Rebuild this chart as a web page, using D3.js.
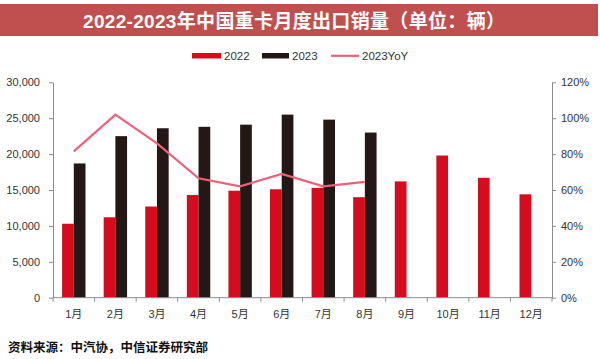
<!DOCTYPE html>
<html><head><meta charset="utf-8">
<script src="https://cdn.jsdelivr.net/npm/d3@7"></script>
<style>
html,body{margin:0;padding:0;background:#fff;}
svg{display:block;}
</style>
</head><body>
<svg id="c" width="600" height="359"></svg>
<script>
const months = ["1月","2月","3月","4月","5月","6月","7月","8月","9月","10月","11月","12月"];
const sales2022 = [10300,11200,12700,14300,14900,15100,15300,14000,16200,19800,16700,14400];
const sales2023 = [18700,22500,23600,23800,24100,25500,24800,23000,null,null,null,null];
const yoy2023 = [0.815,1.02,0.86,0.665,0.62,0.69,0.62,0.645,null,null,null,null];
const leftTicks = [0,5000,10000,15000,20000,25000,30000];
const rightTicks = [0,0.2,0.4,0.6,0.8,1.0,1.2];
const seriesNames = ["2022","2023","2023YoY"];

const colors = {r:"#d50b1e", k:"#231815", p:"#f0607a", axis:"#8c8c8c", text:"#333"};
const font = "'Liberation Sans', Arial, 'Noto Sans CJK SC', sans-serif";
const svg = d3.select("#c");

// title bar
svg.append("rect").attr("x",0).attr("y",4).attr("width",598).attr("height",32).attr("fill","#c0504f");
svg.append("text").attr("x",83).attr("y",28).attr("fill","#fff")
  .attr("font-family","'Liberation Sans', 'Noto Sans CJK SC', sans-serif").attr("font-weight","bold")
  .attr("font-size",19).attr("textLength",422).attr("lengthAdjust","spacing")
  .text("2022-2023年中国重卡月度出口销量（单位：辆）");

const L = 53, R = 552, T = 82.3, B = 297.7;
const x0 = d3.scaleBand().domain(months).range([L,R]).padding(0);
const bw = x0.bandwidth();
const x1 = d3.scaleBand().domain(["2022","2023"]).range([bw/2-11.7, bw/2+11.7]).padding(0);
const yL = d3.scaleLinear().domain([0,30000]).range([B,T]);
const yR = d3.scaleLinear().domain([0,1.2]).range([B,T]);

// bars
const g = svg.append("g");
g.selectAll("rect.a").data(months).enter().append("rect")
  .attr("x",d=>x0(d)+x1("2022")).attr("width",x1.bandwidth())
  .attr("y",(d,i)=>yL(sales2022[i])).attr("height",(d,i)=>B-yL(sales2022[i]))
  .attr("fill",colors.r);
g.selectAll("rect.b").data(months.filter((d,i)=>sales2023[i]!=null)).enter().append("rect")
  .attr("x",d=>x0(d)+x1("2023")).attr("width",x1.bandwidth())
  .attr("y",(d,i)=>yL(sales2023[i])).attr("height",(d,i)=>B-yL(sales2023[i]))
  .attr("fill",colors.k);

// line
const lineData = months.map((m,i)=>({m, v:yoy2023[i]})).filter(d=>d.v!=null);
svg.append("path").datum(lineData)
  .attr("d", d3.line().x(d=>x0(d.m)+bw/2).y(d=>yR(d.v)))
  .attr("fill","none").attr("stroke",colors.p).attr("stroke-width",2.2);

// axes
function styleAxis(sel){
  sel.selectAll("path,line").attr("stroke",colors.axis);
  sel.selectAll("text").attr("fill",colors.text).attr("font-family",font).attr("font-size",11);
}
const axL = svg.append("g").attr("transform",`translate(${L},0)`)
  .call(d3.axisLeft(yL).tickValues(leftTicks).tickFormat(d3.format(",")).tickSizeInner(4).tickSizeOuter(0).tickPadding(9));
styleAxis(axL);
const axR = svg.append("g").attr("transform",`translate(${R},0)`)
  .call(d3.axisRight(yR).tickValues(rightTicks).tickFormat(d3.format(".0%")).tickSizeInner(4).tickSizeOuter(0).tickPadding(5));
styleAxis(axR);
const axB = svg.append("g").attr("transform",`translate(0,${B})`)
  .call(d3.axisBottom(x0).tickSize(0).tickPadding(13));
styleAxis(axB);
axB.selectAll(".tick text").attr("font-family","'Liberation Sans', 'Noto Sans CJK SC', sans-serif");
axB.select("path").attr("d",`M${L},0H${R}`);
// boundary tick marks
axB.selectAll("line.bt").data(months.concat(["_end"])).enter().append("line")
  .attr("x1",(d,i)=>i<months.length?x0(d):R).attr("x2",(d,i)=>i<months.length?x0(d):R)
  .attr("y1",0).attr("y2",4).attr("stroke",colors.axis);

// legend
const lg = svg.append("g").attr("font-family",font).attr("font-size",11.5).attr("fill",colors.text);
lg.append("rect").attr("x",192).attr("y",53).attr("width",29).attr("height",5.5).attr("fill",colors.r);
lg.append("text").attr("x",224).attr("y",60).text(seriesNames[0]);
lg.append("rect").attr("x",262).attr("y",53).attr("width",27).attr("height",5.5).attr("fill",colors.k);
lg.append("text").attr("x",292).attr("y",60).text(seriesNames[1]);
lg.append("line").attr("x1",331).attr("x2",359).attr("y1",55.8).attr("y2",55.8).attr("stroke",colors.p).attr("stroke-width",2.2);
lg.append("text").attr("x",362).attr("y",60).text(seriesNames[2]);

// source
svg.append("text").attr("x",8).attr("y",352).attr("fill","#111")
  .attr("font-family","'Noto Sans CJK SC', sans-serif").attr("font-weight","bold").attr("font-size",12.5)
  .text("资料来源：中汽协，中信证券研究部");
</script>
</body></html>
